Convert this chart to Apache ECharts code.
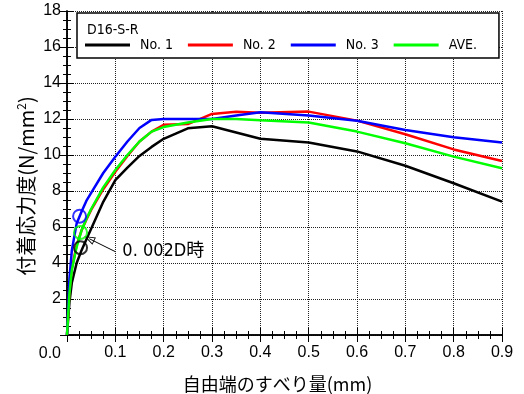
<!DOCTYPE html>
<html>
<head>
<meta charset="utf-8">
<script src="https://cdn.jsdelivr.net/npm/echarts@6/dist/echarts.min.js"></script>
<style>
  html, body { margin: 0; padding: 0; background: #fff; }
  #chart { width: 524px; height: 394px; }
</style>
</head>
<body>
<div id="chart"></div>
<script>
// slip at free end (mm)
const slip = [0, 0.005, 0.01, 0.02, 0.03, 0.04, 0.05, 0.075, 0.1, 0.125, 0.15, 0.175, 0.2, 0.25, 0.3, 0.35, 0.4, 0.5, 0.6, 0.7, 0.8, 0.9];
// bond stress (N/mm2)
const no1 = [0, 1.8, 2.9, 4.0, 4.7, 5.3, 5.9, 7.4, 8.6, 9.3, 9.95, 10.45, 10.9, 11.48, 11.6, 11.25, 10.9, 10.7, 10.2, 9.4, 8.43, 7.41];
const no2 = [0, 2.4, 3.7, 5.0, 5.8, 6.4, 6.95, 8.1, 9.07, 9.95, 10.75, 11.3, 11.68, 11.72, 12.28, 12.4, 12.35, 12.41, 11.91, 11.15, 10.31, 9.67];
const no3 = [0, 3.1, 4.7, 6.2, 6.85, 7.45, 7.9, 9.0, 9.9, 10.75, 11.5, 11.95, 12.0, 12.0, 12.0, 12.2, 12.37, 12.19, 11.9, 11.39, 10.98, 10.69];
const ave = [0, 2.3, 3.6, 4.9, 5.8, 6.45, 7.0, 8.2, 9.17, 10.0, 10.75, 11.3, 11.55, 11.8, 12.0, 12.0, 11.93, 11.81, 11.3, 10.65, 9.91, 9.26];
const seriesNames = ['No. 1', 'No. 2', 'No. 3', 'AVE.'];
const seriesColors = ['#000000', '#ff0000', '#0000ff', '#00ff00'];
// 0.002D points
const pointNames = ['No. 1', 'No. 3', 'AVE.'];
const pointSlip = [0.028, 0.026, 0.028];
const pointStress = [4.85, 6.6, 5.7];
const noteFrom = [0.1, 4.63];
const noteTo = [0.046, 5.35];
const noteText = '0. 002D時';

const narrow = '"Liberation Sans Narrow", "DejaVu Sans Condensed", "Noto Sans CJK JP", sans-serif';
const arial = '"Liberation Sans", Arial, sans-serif';
const pair = (xs, ys) => xs.map((x, i) => [x, ys[i]]);
// open triangle head for the note arrow
const openArrow = 'path://M5,0 L10,14 L0,14 Z M5,3.2 L1.6,12.9 L8.4,12.9 Z';

const chart = echarts.init(document.getElementById('chart'));

const lines = [no1, no2, no3, ave].map((ys, i) => ({
    name: seriesNames[i],
    type: 'line',
    data: pair(slip, ys),
    symbol: 'none',
    lineStyle: { color: seriesColors[i], width: 2.5 },
    itemStyle: { color: seriesColors[i] },
    z: 3 + i,
    silent: true
}));

const circles = pointNames.map((n, i) => ({
    type: 'scatter',
    data: [[pointSlip[i], pointStress[i]]],
    symbol: 'circle',
    symbolSize: 13,
    itemStyle: { color: 'transparent', borderColor: seriesColors[seriesNames.indexOf(n)], borderWidth: 2 },
    z: 10,
    silent: true
}));

const note = {
    type: 'scatter',
    data: [noteFrom],
    symbolSize: 0,
    silent: true,
    z: 12,
    label: {
        show: true,
        position: 'right',
        distance: 7,
        formatter: noteText,
        color: '#000',
        opacity: 1,
        textBorderWidth: 0,
        fontSize: 18,
        fontFamily: narrow
    },
    emphasis: { disabled: true },
    markLine: {
        silent: true,
        symbol: ['none', openArrow],
        symbolSize: [8, 11],
        label: { show: false },
        lineStyle: { color: '#000', width: 1, type: 'solid' },
        data: [[{ coord: noteFrom }, { coord: noteTo }]]
    }
};

const tickAxis = {
    min: 0,
    axisLine: { show: true, lineStyle: { color: '#000', width: 1.5 } },
    axisTick: { show: true, inside: true, length: 7, lineStyle: { color: '#000' } },
    minorTick: { show: true, splitNumber: 4, length: 4, lineStyle: { color: '#000' } },
    axisLabel: { show: false },
    splitLine: { show: false }
};

chart.setOption({
    animation: false,
    backgroundColor: '#fff',
    grid: { left: 67, right: 22, top: 11, bottom: 59, outerBoundsMode: 'none' },
    title: {
        text: 'D16-S-R',
        left: 82,
        top: 18,
        z: 20,
        textStyle: { fontSize: 14, fontWeight: 'normal', color: '#000', fontFamily: narrow }
    },
    legend: {
        data: seriesNames,
        left: 77,
        top: 13,
        padding: [25, 22, 6, 8],
        icon: 'rect',
        itemWidth: 45,
        itemHeight: 3,
        itemGap: 15,
        backgroundColor: '#fff',
        borderColor: '#000',
        borderWidth: 1.5,
        borderRadius: 0,
        selectedMode: false,
        textStyle: { fontSize: 14, color: '#000', fontFamily: narrow, width: 31, padding: [0, 0, 0, 5] }
    },
    xAxis: [
        Object.assign({}, tickAxis, {
            type: 'value', max: 0.9, interval: 0.1,
            name: '自由端のすべり量(mm)',
            nameLocation: 'middle',
            nameGap: 40,
            nameMoveOverlap: false,
            nameTextStyle: { fontSize: 18, color: '#000', fontFamily: '"Noto Sans CJK JP", sans-serif', padding: [0, 14, 0, 0] },
            axisLabel: {
                show: true, showMinLabel: false, margin: 10, fontSize: 16, color: '#000',
                fontFamily: arial,
                formatter: v => v.toFixed(1)
            },
            splitLine: { show: true, lineStyle: { color: '#222', width: 1, type: [1, 1] } }
        }),
        Object.assign({}, tickAxis, { type: 'value', max: 0.9, interval: 0.1, position: 'top' })
    ],
    yAxis: [
        Object.assign({}, tickAxis, {
            type: 'value', max: 18, interval: 2,
            name: '付着応力度(N/mm{sup|2})',
            nameLocation: 'middle',
            nameGap: 30,
            nameMoveOverlap: false,
            nameTextStyle: {
                fontSize: 20, color: '#000', fontFamily: '"Noto Sans CJK JP", sans-serif',
                padding: [0, 26, 0, 0],
                rich: { sup: { fontSize: 12, verticalAlign: 'top', padding: [0, 0, 10, 0] } }
            },
            axisLabel: {
                show: true, margin: 6, fontSize: 16, color: '#000',
                fontFamily: arial,
                formatter: v => (v === 0 ? '{z|0.0}' : String(v)),
                rich: { z: { fontSize: 16, padding: [38, 0, 0, 0], fontFamily: arial } }
            },
            splitLine: { show: true, lineStyle: { color: '#222', width: 1, type: [1, 1] } }
        }),
        Object.assign({}, tickAxis, { type: 'value', max: 18, interval: 2, position: 'right' })
    ],
    series: lines.concat(circles, [note])
});
</script>
</body>
</html>
